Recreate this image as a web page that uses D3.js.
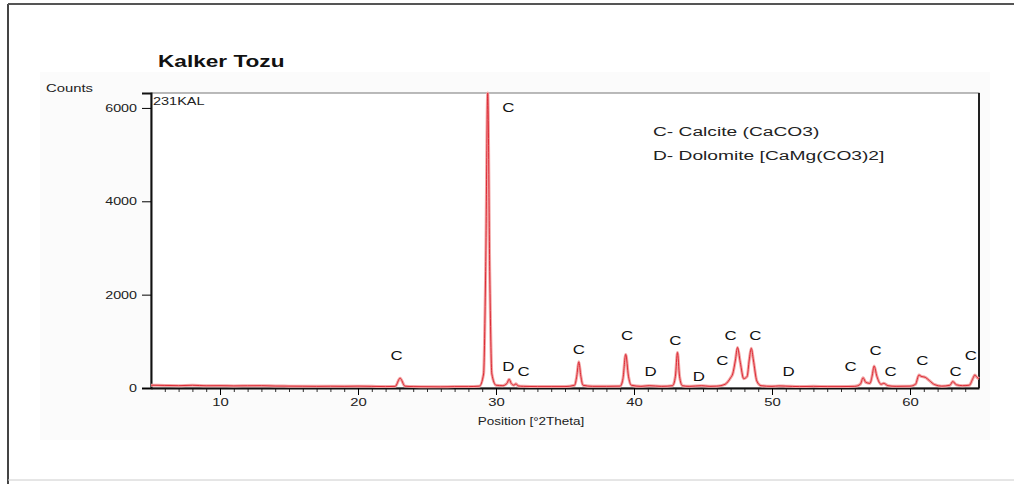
<!DOCTYPE html>
<html>
<head>
<meta charset="utf-8">
<script src="https://cdn.jsdelivr.net/npm/d3@7"></script>
<style>
  body { margin: 0; background: #fff; }
  svg { display: block; font-family: "Liberation Sans", Arial, sans-serif; }
  .tick text { font-size: 11px; fill: #222; }
  .peak-label { font-size: 12.5px; fill: #111; }
</style>
</head>
<body>
<script>
// scan: [position (°2Theta), counts]
var scanPos = [5, 6, 7, 8, 9, 10, 11, 12, 13, 14, 15, 16, 17, 18, 19, 20, 21, 22, 22.7, 23.05, 23.4,
  24, 25, 26, 27, 28, 28.8, 29.1, 29.25, 29.4, 29.55, 29.7, 30, 30.5, 30.8, 30.95, 31.1, 31.3, 31.45, 31.6,
  32, 33, 34, 35, 35.7, 35.85, 36, 36.15, 36.3, 37, 38, 39, 39.2, 39.4, 39.6, 39.8, 40.5, 41.1, 42,
  42.8, 43, 43.15, 43.3, 43.5, 44, 44.9, 45.5, 46, 46.6, 47, 47.15, 47.35, 47.5, 47.7, 47.95, 48.2,
  48.35, 48.5, 48.65, 48.9, 49.2, 50, 50.5, 51, 52, 53, 54, 55, 56, 56.4, 56.6, 56.8, 57.1, 57.25,
  57.4, 57.6, 57.9, 58.1, 58.4, 59, 60, 60.4, 60.65, 60.8, 61.1, 61.4, 61.8, 62.3, 62.9, 63.1, 63.35,
  63.8, 64.3, 64.55, 64.7, 64.85, 65];
var scanCounts = [60, 55, 50, 58, 48, 50, 45, 48, 50, 42, 40, 38, 35, 38, 35, 40, 35, 30, 35, 210, 40,
  30, 28, 25, 30, 30, 40, 300, 2500, 6400, 2400, 300, 60, 50, 100, 190, 100, 60, 90, 45,
  35, 30, 30, 30, 60, 250, 560, 250, 60, 35, 35, 40, 200, 720, 250, 60, 35, 50, 35,
  50, 250, 760, 250, 50, 35, 50, 35, 40, 80, 220, 300, 600, 870, 550, 200, 250,
  600, 850, 600, 150, 50, 35, 45, 40, 30, 35, 30, 30, 35, 80, 220, 120, 100, 250,
  470, 250, 80, 100, 50, 35, 40, 80, 280, 250, 230, 160, 70, 40, 60, 140, 70,
  50, 60, 200, 280, 230, 200];

// phase labels: letter, position, height of the label
var labelText = ["C", "C", "D", "C", "C", "C", "D", "C", "D", "C", "C", "C", "D", "C", "C", "C", "C", "C", "C"];
var labelPos = [22.8, 30.9, 30.9, 32.0, 36.0, 39.5, 41.2, 43.0, 44.7, 46.4, 47.0, 48.8, 51.2, 55.7, 57.5, 58.6, 60.9, 63.3, 64.4];
var labelCounts = [690, 6000, 450, 340, 820, 1120, 340, 1010, 240, 580, 1120, 1120, 340, 450, 800, 340, 580, 340, 690];

var legendLines = ["C- Calcite (CaCO3)", "D- Dolomite [CaMg(CO3)2]"];
var yTicks = [0, 2000, 4000, 6000];
var xTicks = [10, 20, 30, 40, 50, 60];

var width = 1014,
    height = 484;

var plot = {left: 151, right: 979, top: 93, bottom: 388};

var x = d3.scaleLinear().domain([5, 65]).range([plot.left, plot.right]);
var y = d3.scaleLinear().domain([0, 6320]).range([plot.bottom, plot.top]);

var svg = d3.select("body").append("svg")
    .attr("width", width)
    .attr("height", height);

// the source picture has wide, stretched lettering
function stretch(sel, sx) {
    sel.each(function() {
        var t = d3.select(this);
        var tx = +t.attr("x") || 0, ty = +t.attr("y") || 0;
        t.attr("x", 0).attr("y", 0)
         .attr("transform", "translate(" + tx + "," + ty + ") scale(" + sx + ",1)");
    });
}

// outer frame + grey backdrop
svg.append("rect").attr("x", 40).attr("y", 72).attr("width", 950).attr("height", 368)
    .style("fill", "#fbfbfb");
svg.append("line").attr("x1", 8).attr("x2", 8).attr("y1", 4).attr("y2", 484)
    .style("stroke", "#444").style("stroke-width", 2);
svg.append("line").attr("x1", 8).attr("x2", 1014).attr("y1", 4).attr("y2", 4)
    .style("stroke", "#555").style("stroke-width", 2);
svg.append("line").attr("x1", 8).attr("x2", 1014).attr("y1", 480).attr("y2", 480)
    .style("stroke", "#ccc").style("stroke-width", 1);

svg.append("rect")
    .attr("x", plot.left).attr("y", plot.top)
    .attr("width", plot.right - plot.left).attr("height", plot.bottom - plot.top)
    .style("fill", "#fff").style("stroke", "#777").style("stroke-width", 1);
svg.append("line").attr("x1", plot.right).attr("x2", plot.right).attr("y1", plot.top).attr("y2", plot.bottom)
    .style("stroke", "#222").style("stroke-width", 2);

svg.append("text").attr("x", 158).attr("y", 67)
    .style("font-size", "17px").style("font-weight", "bold").style("fill", "#111")
    .text("Kalker Tozu")
    .call(stretch, 1.33);
svg.append("text").attr("x", 46).attr("y", 92)
    .style("font-size", "11px").style("fill", "#222")
    .text("Counts")
    .call(stretch, 1.35);
svg.append("text").attr("x", 153).attr("y", 105)
    .style("font-size", "10px").style("fill", "#222")
    .text("231KAL")
    .call(stretch, 1.45);

// axes
var yAxis = svg.append("g")
    .attr("transform", "translate(" + plot.left + ",0)")
    .call(d3.axisLeft(y).tickValues(yTicks).tickFormat(d3.format("d")).tickSize(9).tickPadding(5));
yAxis.select(".domain").style("stroke", "#111").style("stroke-width", 2);
yAxis.selectAll(".tick text").call(stretch, 1.3);

var xMinor = svg.append("g")
    .attr("transform", "translate(0," + plot.bottom + ")")
    .call(d3.axisBottom(x).tickValues(d3.range(6, 65)).tickSize(4).tickFormat(""));
xMinor.select(".domain").remove();
xMinor.selectAll("line").style("stroke", "#333");

var xAxis = svg.append("g")
    .attr("transform", "translate(0," + plot.bottom + ")")
    .call(d3.axisBottom(x).tickValues(xTicks).tickSize(7).tickPadding(3).tickSizeOuter(0));
xAxis.select(".domain").style("stroke", "#111").style("stroke-width", 2);
xAxis.selectAll(".tick text").call(stretch, 1.35);

svg.append("text").attr("x", 531).attr("y", 425)
    .attr("text-anchor", "middle")
    .style("font-size", "10px").style("fill", "#222")
    .text("Position [°2Theta]")
    .call(stretch, 1.35);

// scan line, drawn twice for the soft red look
var scan = scanPos.map(function(p, i) { return [p, scanCounts[i]]; });
var line = d3.line()
    .x(function(d) { return x(d[0]); })
    .y(function(d) { return y(Math.min(d[1], 6320)); })
    .curve(d3.curveMonotoneX);

svg.append("path").datum(scan).attr("d", line)
    .style("fill", "none").style("stroke", "#f2a6a6").style("stroke-width", 3);
svg.append("path").datum(scan).attr("d", line)
    .style("fill", "none").style("stroke", "#dd2a35").style("stroke-width", 1);

// phase labels
svg.selectAll("text.peak-label")
    .data(labelText)
    .enter()
    .append("text")
    .attr("class", "peak-label")
    .attr("x", function(d, i) { return x(labelPos[i]); })
    .attr("y", function(d, i) { return y(labelCounts[i]) + 4; })
    .attr("text-anchor", "middle")
    .text(function(d) { return d; })
    .call(stretch, 1.35);

svg.selectAll("text.legend")
    .data(legendLines)
    .enter()
    .append("text")
    .attr("class", "legend")
    .attr("x", 653)
    .attr("y", function(d, i) { return 136 + i * 24; })
    .style("font-size", "12px").style("fill", "#222")
    .text(function(d) { return d; })
    .call(stretch, 1.6);
</script>
</body>
</html>
